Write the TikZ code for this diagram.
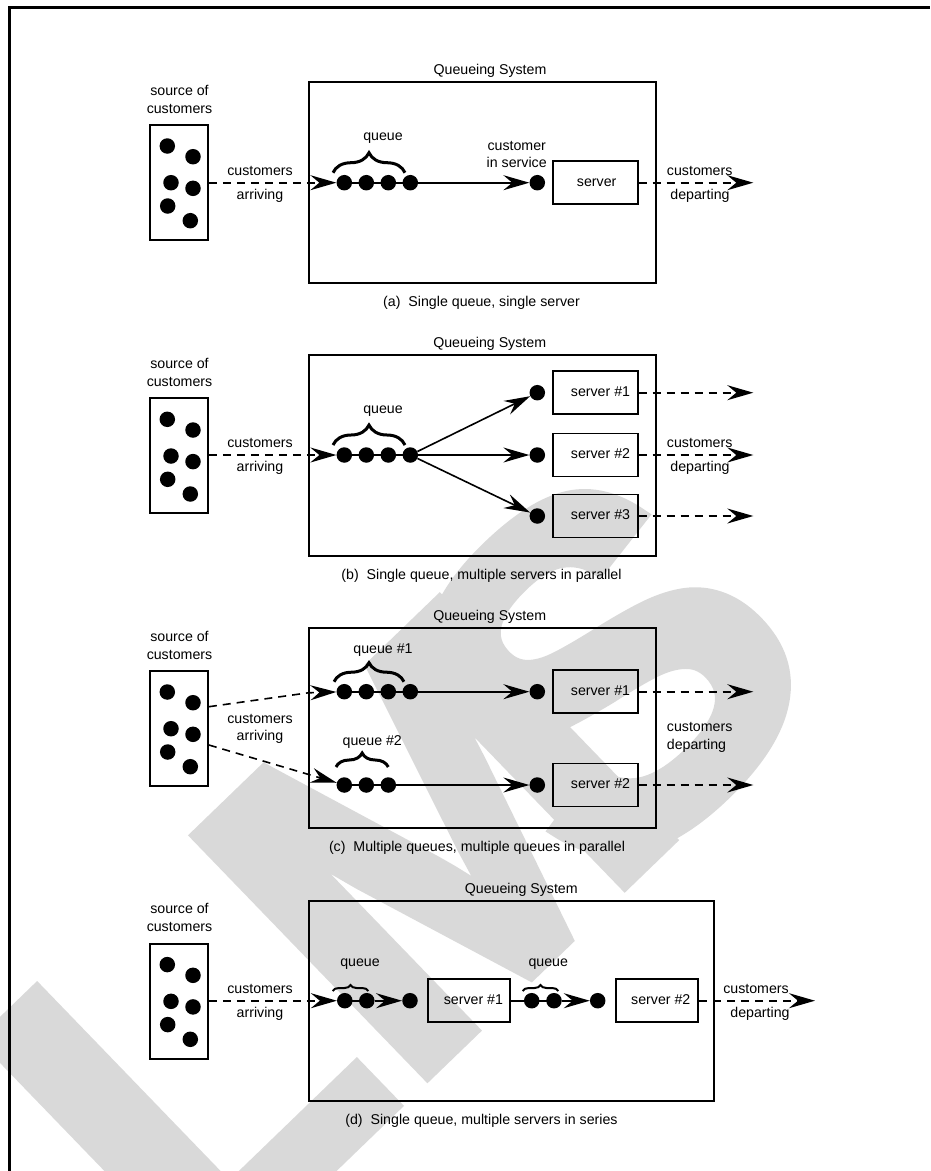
\documentclass[tikz,border=0pt]{standalone}
\usepackage{fontspec}
\setmainfont{Liberation Sans}
\newfontfamily\stampfont{Liberation Sans Bold}[FakeBold=3]
\usetikzlibrary{arrows.meta,decorations.pathreplacing,calc}

\tikzset{
  lbl/.style={font=\fontsize{14.2}{17}\selectfont, inner sep=0pt, anchor=base},
  box/.style={draw, line width=1.9pt, inner sep=0pt},
  srvbox/.style={box, minimum width=84.4pt, minimum height=43pt},
  dot/.style={circle, fill, inner sep=0pt, minimum size=15.5pt},
  tip/.style={-{Stealth[length=26pt,width=15pt,inset=9pt]}},
  sline/.style={line width=1.6pt},
  dline/.style={line width=1.6pt, dash pattern=on 8pt off 6pt},
  qbrace/.style={decorate, decoration={brace, amplitude=#1}, line width=3pt},
  qbrace/.default=20,
  stamptext/.style={rotate=44, font=\stampfont\fontsize{480}{480}\selectfont, text=black!15, inner sep=0pt},
}

% source of customers: caption, box and six customers
\newcommand\srcblock[2]{%
\begin{scope}[shift={(0,#2)}]
  \node[lbl] (#1-t1) at (179.5,95) {source of};
  \node[lbl] (#1-t2) at (179.5,113) {customers};
  \node[box, anchor=north west, minimum width=58pt, minimum height=115pt] (#1) at (149,124) {};
  \foreach \n/\px/\py in {1/18.3/22,2/44/32.7,3/22/58.7,4/44/64.3,5/18.7/82,6/41.3/96.7}
    \node[dot] (#1-c\n) at ($(#1.north west)+(\px,\py)$) {};
\end{scope}}

\begin{document}
\begin{tikzpicture}[x=1pt,y=-1pt]
\useasboundingbox (0,0) rectangle (930,1171);

% background stamp
\node[stamptext] (stamp) at (400,870) {LM\kern-0.25em S};

% page frame
\draw[line width=3pt] (9.5,1171) -- (9.5,7.5) -- (930,7.5);

%% ---------------- (a) single queue, single server
\srcblock{a-src}{0}
\node[box, anchor=north west, minimum width=346.7pt, minimum height=200.7pt] (a-sys) at (308.3,81) {};
\node[lbl] (a-syst) at (490,74.3) {Queueing System};
\foreach \n/\qx in {1/344.3,2/366.3,3/388.3,4/410.3}
  \node[dot] (a-q\n) at (\qx,182.7) {};
\draw[sline] (a-q1.center) -- (a-q4.center);
\draw[qbrace] (333,172.7) -- (405,172.7);
\node[lbl] (a-ql) at (383,140) {queue};
\draw[dline,tip] (a-src.east |- a-q1) -- (a-q1);
\node[lbl] (a-in1) at (260,175) {customers};
\node[lbl] (a-in2) at (260,199) {arriving};
\node[dot] (a-d) at (537.3,182.7) {};
\draw[sline,tip] (a-q4) -- (a-d);
\node[lbl] (a-cs1) at (516.7,150) {customer};
\node[lbl] (a-cs2) at (516.7,167.3) {in service};
\node[srvbox] (a-srv) at (595.5,182.7) {};
\node[lbl] (a-srvt) at (596.7,186.5) {server};
\coordinate (a-out) at (753.3,182.7);
\draw[dline,tip] (a-srv.east) -- (a-out);
\node[lbl] (a-o1) at (699.7,175) {customers};
\node[lbl] (a-o2) at (700,199) {departing};
\node[lbl] (a-cap) at (481.5,306.2) {(a)\ \ Single queue, single server};

%% ---------------- (b) single queue, parallel servers
\srcblock{b-src}{273.3}
\node[box, anchor=north west, minimum width=346.7pt, minimum height=200.7pt] (b-sys) at (308.3,354.3) {};
\node[lbl] (b-syst) at (489.7,347.7) {Queueing System};
\foreach \n/\qx in {1/344.3,2/366.3,3/388.3,4/410.3}
  \node[dot] (b-q\n) at (\qx,455) {};
\draw[sline] (b-q1.center) -- (b-q4.center);
\draw[qbrace] (333,445) -- (405,445);
\node[lbl] (b-ql) at (383,413) {queue};
\draw[dline,tip] (b-src.east |- b-q1) -- (b-q1);
\node[lbl] (b-in1) at (260,447.3) {customers};
\node[lbl] (b-in2) at (260,471.3) {arriving};
\foreach \n/\ry in {1/392.7,2/455,3/516}{
  \node[dot] (b-d\n) at (537.3,\ry) {};
  \draw[sline,tip] (b-q4) -- (b-d\n);
  \node[srvbox] (b-srv\n) at (595.5,\ry) {};
  \node[lbl] (b-srvt\n) at (600.5,\ry+3.8) {server \#\n};
  \coordinate (b-out\n) at (753.3,\ry);
  \draw[dline,tip] (b-srv\n.east) -- (b-out\n);
}
\node[lbl] (b-o1) at (699.7,447.3) {customers};
\node[lbl] (b-o2) at (700,471.3) {departing};
\node[lbl] (b-cap) at (481.5,579.5) {(b)\ \ Single queue, multiple servers in parallel};

%% ---------------- (c) multiple queues, parallel servers
\srcblock{c-src}{546}
\node[box, anchor=north west, minimum width=346.7pt, minimum height=200.6pt] (c-sys) at (308.3,626.7) {};
\node[lbl] (c-syst) at (489.7,620.5) {Queueing System};
\foreach \n/\qx in {1/344.3,2/366.3,3/388.3,4/410.3}
  \node[dot] (c-p\n) at (\qx,691.7) {};
\foreach \n/\qx in {1/344.3,2/366.3,3/388.3}
  \node[dot] (c-q\n) at (\qx,785) {};
\draw[sline] (c-p1.center) -- (c-p4.center);
\draw[sline] (c-q1.center) -- (c-q3.center);
\draw[qbrace=19] (334,681.7) -- (404,681.7);
\draw[qbrace=14] (336,767) -- (388.3,767);
\node[lbl] (c-pl) at (383,653.5) {queue \#1};
\node[lbl] (c-ql) at (372.3,745.3) {queue \#2};
\coordinate (c-bend) at (308.3,692.8);
\draw[dline,tip] ($(c-src.north east)+(0,36.7)$) -- (c-bend) -- (c-p1);
\draw[dline,tip] ($(c-src.north east)+(0,75)$) -- (c-q1);
\node[lbl] (c-in1) at (260,723.3) {customers};
\node[lbl] (c-in2) at (260,740.7) {arriving};
\node[dot] (c-d1) at (537.3,691.7) {};
\node[dot] (c-d2) at (537.3,785) {};
\draw[sline,tip] (c-p4) -- (c-d1);
\draw[sline,tip] (c-q3) -- (c-d2);
\foreach \n/\ry in {1/691.7,2/785}{
  \node[srvbox] (c-srv\n) at (595.5,\ry) {};
  \node[lbl] (c-srvt\n) at (600.5,\ry+3.8) {server \#\n};
  \coordinate (c-out\n) at (753.3,\ry);
  \draw[dline,tip] (c-srv\n.east) -- (c-out\n);
}
\node[lbl, anchor=base west] (c-o1) at (666.7,731.5) {customers};
\node[lbl, anchor=base west] (c-o2) at (666.7,749) {departing};
\node[lbl] (c-cap) at (477,851.8) {(c)\ \ Multiple queues, multiple queues in parallel};

%% ---------------- (d) servers in series
\srcblock{d-src}{818.6}
\node[box, anchor=north west, minimum width=405pt, minimum height=200pt] (d-sys) at (308.3,900) {};
\node[lbl] (d-syst) at (521.3,893.5) {Queueing System};
\node[dot] (d-q1) at (344.8,1000.7) {};
\node[dot] (d-q2) at (366.8,1000.7) {};
\draw[sline] (d-q1.center) -- (d-q2.center);
\draw[decorate, decoration={brace, amplitude=6pt}, line width=2pt] (332.7,991) -- (368.3,991);
\node[lbl] (d-ql1) at (360,966.7) {queue};
\draw[dline,tip] (d-src.east |- d-q1) -- (d-q1);
\node[lbl] (d-in1) at (260,993) {customers};
\node[lbl] (d-in2) at (260,1017) {arriving};
\node[dot] (d-d1) at (410,1000.7) {};
\draw[sline,tip] (d-q2) -- (d-d1);
\node[box, minimum width=81.7pt, minimum height=43pt] (d-srv1) at (469.2,1000.7) {};
\node[lbl] (d-srvt1) at (473.4,1004.5) {server \#1};
\node[dot] (d-r1) at (531.7,1000.7) {};
\node[dot] (d-r2) at (554,1000.7) {};
\draw[sline] (d-srv1.east) -- (d-r1.center) -- (d-r2.center);
\draw[decorate, decoration={brace, amplitude=6pt}, line width=2pt] (522.7,991) -- (558.3,991);
\node[lbl] (d-ql2) at (548.3,966.7) {queue};
\node[dot] (d-d2) at (597.7,1000.7) {};
\draw[sline,tip] (d-r2) -- (d-d2);
\node[box, minimum width=82.3pt, minimum height=43pt] (d-srv2) at (657.2,1000.7) {};
\node[lbl] (d-srvt2) at (660.8,1004.5) {server \#2};
\coordinate (d-out) at (815,1000.7);
\draw[dline,tip] (d-srv2.east) -- (d-out);
\node[lbl] (d-o1) at (756,993) {customers};
\node[lbl] (d-o2) at (760,1017) {departing};
\node[lbl] (d-cap) at (481.5,1124.5) {(d)\ \ Single queue, multiple servers in series};
\end{tikzpicture}
\end{document}
